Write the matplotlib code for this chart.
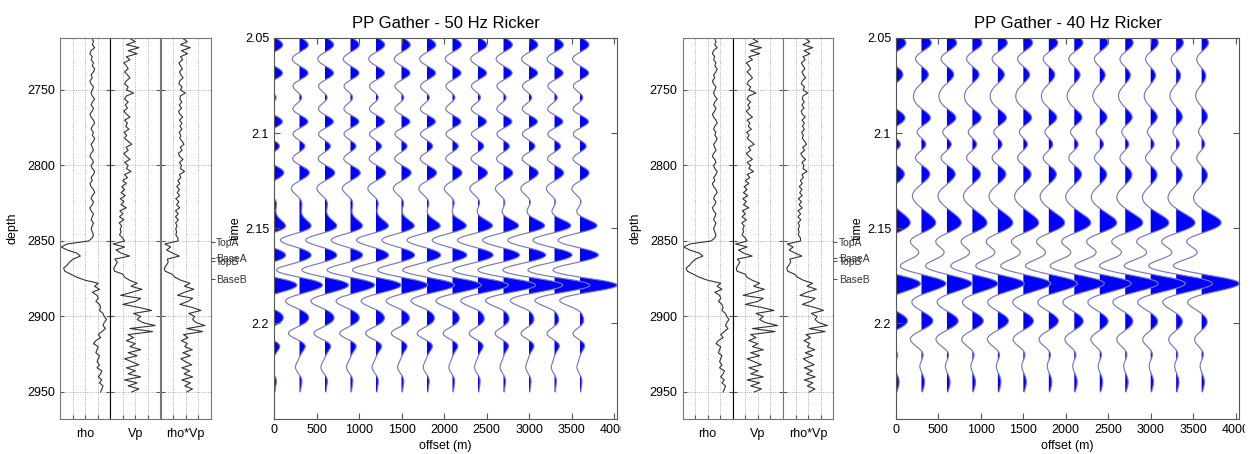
import numpy as np
import matplotlib
matplotlib.use("Agg")
import matplotlib.pyplot as plt
from matplotlib.patches import Rectangle

plt.rcParams['font.family'] = ['Liberation Sans', 'DejaVu Sans']

W, H = 1252, 454

# well logs, one sample every 2 m from 2716 m to 2950 m
depth = np.arange(2716, 2951, 2)
rho = np.array([
    2.37, 2.38, 2.37, 2.39, 2.36, 2.35, 2.37, 2.36, 2.38, 2.37,
    2.39, 2.38, 2.36, 2.37, 2.35, 2.36, 2.38, 2.37, 2.36, 2.37,
    2.39, 2.37, 2.36, 2.38, 2.37, 2.35, 2.36, 2.38, 2.39, 2.37,
    2.36, 2.38, 2.37, 2.39, 2.38, 2.36, 2.37, 2.38, 2.36, 2.35,
    2.37, 2.38, 2.36, 2.37, 2.39, 2.38, 2.36, 2.37, 2.35, 2.36,
    2.38, 2.39, 2.37, 2.36, 2.38, 2.37, 2.35, 2.36, 2.38, 2.37,
    2.36, 2.38, 2.37, 2.36, 2.37, 2.38, 2.37, 2.34, 2.16, 2.11,
    2.16, 2.24, 2.27, 2.21, 2.18, 2.16, 2.13, 2.14, 2.19, 2.24,
    2.31, 2.42, 2.39, 2.43, 2.37, 2.41, 2.42, 2.40, 2.43, 2.44,
    2.43, 2.46, 2.47, 2.49, 2.47, 2.46, 2.48, 2.45, 2.42, 2.44,
    2.40, 2.38, 2.42, 2.41, 2.40, 2.43, 2.42, 2.41, 2.43, 2.41,
    2.45, 2.44, 2.42, 2.45, 2.43, 2.46, 2.45, 2.44])
vp = np.array([
    3150, 3300, 3050, 3400, 3100, 3350, 3050, 3150, 2980, 3050,
    3100, 3000, 3080, 3150, 3050, 3000, 3100, 3050, 3250, 3050,
    3000, 3100, 3020, 3080, 2980, 3050, 3150, 3000, 3080, 3030,
    3120, 2990, 3060, 3000, 3100, 3200, 3040, 3100, 2980, 3050,
    3150, 3000, 3100, 3050, 3180, 3000, 3080, 2950, 3050, 2920,
    3000, 2900, 3020, 2880, 2980, 2900, 3050, 2870, 2950, 2860,
    2980, 2850, 2920, 2880, 2900, 2860, 2950, 3000, 2680, 3000,
    2760, 2900, 3140, 2730, 2800, 2750, 2700, 2720, 2950, 3000,
    3140, 3350, 3180, 3480, 3200, 2890, 3450, 3300, 2950, 3400,
    3750, 3250, 3450, 3350, 3500, 3850, 3150, 3780, 3100, 3250,
    3050, 3300, 3150, 3450, 3100, 3350, 3000, 3200, 3400, 3050,
    3300, 3100, 3450, 3000, 3350, 3100, 3400, 3200])

top_names = ['TopA', 'BaseA', 'TopB', 'BaseB']
top_depths = [2851, 2861, 2863.5, 2875]

offsets = [0, 300, 600, 900, 1200, 1500, 1800, 2100, 2400, 2700, 3000, 3300, 3600]

t50 = [2.0537, 2.0612, 2.0686, 2.0750, 2.0814, 2.0877, 2.0940, 2.1003, 2.1067, 2.1135,
       2.1204, 2.1295, 2.1488, 2.1565, 2.1642, 2.1720, 2.1800, 2.1885, 2.1967, 2.2055,
       2.2156, 2.2232, 2.2309]
near50 = [0.052, -0.041, 0.052, -0.035, 0.015, -0.035, 0.052, -0.035, 0.034, -0.038,
          0.058, -0.047, 0.068, -0.112, 0.068, -0.135, 0.135, -0.082, 0.054, -0.065,
          0.014, -0.024, 0.014]
far50 = [0.054, -0.041, 0.054, -0.035, 0.021, -0.035, 0.054, -0.035, 0.040, -0.038,
         0.054, -0.047, 0.100, -0.129, 0.108, -0.159, 0.218, -0.118, 0.018, -0.041,
         0.008, -0.018, 0.011]

t40 = [2.0528, 2.0610, 2.0686, 2.0800, 2.0930, 2.0990, 2.1054, 2.1130, 2.1204, 2.1335,
       2.1467, 2.1572, 2.1635, 2.1703, 2.1790, 2.1887, 2.1984, 2.2089, 2.2210, 2.2317]
near40 = [0.058, -0.035, 0.040, -0.047, 0.050, -0.024, 0.025, -0.035, 0.046, -0.053,
          0.083, -0.065, -0.018, -0.123, 0.143, -0.056, 0.067, -0.065, -0.006, 0.018]
far40 = [0.040, -0.029, 0.022, -0.035, 0.029, -0.018, 0.018, -0.029, 0.029, -0.047,
         0.114, -0.088, -0.029, -0.165, 0.222, -0.082, 0.031, -0.041, -0.006, 0.016]


def ricker(t, freq):
    u = (np.pi * freq * t) ** 2
    return (1 - 2 * u) * np.exp(-u)


def px_axes(fig, x0, y0, x1, y1):
    return fig.add_axes([x0 / W, 1 - y1 / H, (x1 - x0) / W, (y1 - y0) / H])


def draw_logs(fig, left):
    edges = [left, left + 50.2, left + 100.5, left + 150.7]
    curves = [rho, vp, rho * vp]
    lims = [(2.1, 2.52), (2600, 4000), (5400, 10000)]
    names = ['rho', 'Vp', 'rho*Vp']
    axs = []
    for i in range(3):
        ax = px_axes(fig, edges[i], 38, edges[i + 1], 419)
        ax.plot(curves[i], depth, color='#333333', lw=0.8)
        lo, hi = lims[i]
        ax.set_xlim(lo, hi)
        ax.set_ylim(2967.9, 2715.6)
        ax.set_xticks(lo + (hi - lo) * np.array([0.25, 0.5, 0.75]))
        ax.set_xticklabels([])
        ax.set_yticks([2750, 2800, 2850, 2900, 2950])
        ax.grid(True, ls=':', color='#999999', lw=0.6)
        ax.tick_params(direction='in', length=3, left=True, right=True, top=False,
                       labelleft=(i == 0), labelsize=9, color='#555555')
        ax.set_xlabel(names[i], fontsize=9, labelpad=3)
        for s in ax.spines.values():
            s.set_color('#777777')
        axs.append(ax)
    axs[0].spines['right'].set_color('black')
    axs[1].spines['left'].set_color('black')
    axs[0].set_ylabel('depth', fontsize=9, labelpad=6)

    tw = axs[2].twinx()
    tw.set_ylim(2967.9, 2715.6)
    tw.set_yticks(top_depths)
    tw.set_yticklabels(top_names, fontsize=7.5, color='#333333')
    tw.tick_params(direction='out', length=3, pad=1, color='#555555')
    for s in tw.spines.values():
        s.set_visible(False)


def draw_gather(fig, left, times, near, far, freq, title, xmax):
    ax = px_axes(fig, left, 38, left + 343, 419)
    times = np.asarray(times)
    # reflectivity that puts the picked peaks and troughs on the traces
    G = ricker(times[:, None] - times[None, :], freq)
    r_near = np.linalg.lstsq(G, np.asarray(near), rcond=0.05)[0]
    r_far = np.linalg.lstsq(G, np.asarray(far), rcond=0.05)[0]

    t = np.arange(2.05, 2.2362, 0.0002)
    wav = ricker(t[:, None] - times[None, :], freq)
    gain = 2000.0
    s2max = 3600.0 ** 2 / (3600.0 ** 2 + (2 * 2850.0) ** 2)
    for x0 in offsets:
        w = (x0 ** 2 / (x0 ** 2 + (2 * 2850.0) ** 2)) / s2max
        d = gain * wav.dot(r_near + w * (r_far - r_near))
        ax.fill_betweenx(t, x0, x0 + d, where=d > 0, color='#0000ff', lw=0, interpolate=True)
        ax.plot(x0 + d, t, color='#7878bc', lw=0.85)
    ax.set_xlim(0, xmax)
    ax.set_ylim(2.2505, 2.05)
    ax.set_xticks(range(0, 4001, 500))
    ax.set_yticks([2.05, 2.1, 2.15, 2.2])
    ax.set_yticklabels(['2.05', '2.1', '2.15', '2.2'])
    ax.tick_params(direction='in', top=True, right=True, labelsize=9, length=4, color='#555555')
    for s in ax.spines.values():
        s.set_color('#555555')
    ax.set_xlabel('offset (m)', fontsize=9, labelpad=3)
    ax.set_ylabel('time', fontsize=9, labelpad=2)
    ax.set_title(title, fontsize=12, pad=7)


fig = plt.figure(figsize=(W / 100, H / 100), dpi=100)

draw_logs(fig, 60)
draw_gather(fig, 274, t50, near50, far50, 50, 'PP Gather - 50 Hz Ricker', 4035)
draw_logs(fig, 682.5)
draw_gather(fig, 896, t40, near40, far40, 40, 'PP Gather - 40 Hz Ricker', 4040)

# the two halves were separate images side by side; their right edge cuts the last tick label
fig.add_artist(Rectangle((621 / W, 0), 12 / W, 40 / H, transform=fig.transFigure,
                         color='white', zorder=20))
fig.add_artist(Rectangle((1245 / W, 0), 7 / W, 40 / H, transform=fig.transFigure,
                         color='white', zorder=20))

fig.savefig('out.png', dpi=100)
